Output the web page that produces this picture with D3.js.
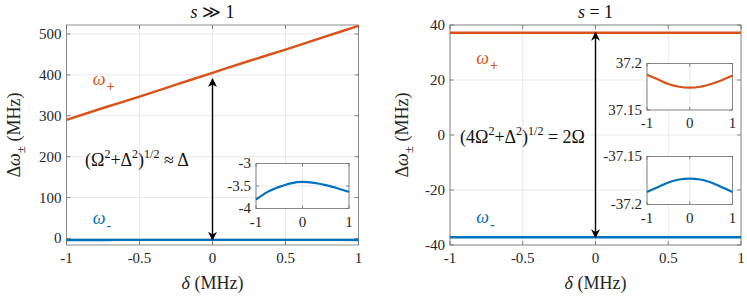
<!DOCTYPE html>
<meta charset="utf-8">
<script src="https://d3js.org/d3.v7.min.js"></script>
<style>
  body { margin: 0; background: #fff; }
</style>
<div id="my_dataviz"></div>
<script>
  // detuning samples (MHz)
  var delta = [-1, -0.75, -0.5, -0.25, 0, 0.25, 0.5, 0.75, 1];
  // s >> 1 branch values (MHz)
  var leftPlus = [290, 319, 347, 376, 405, 434, 462, 491, 520];
  var leftMinus = [-3.80, -3.63, -3.52, -3.44, -3.41, -3.43, -3.48, -3.55, -3.63];
  // s = 1 branch values (MHz)
  var rightPlus = [37.188, 37.183, 37.178, 37.175, 37.174, 37.175, 37.178, 37.182, 37.187];
  var rightMinus = [-37.187, -37.182, -37.177, -37.174, -37.173, -37.174, -37.177, -37.182, -37.187];

  var xTicks = [-1, -0.5, 0, 0.5, 1];
  var leftYTicks = [0, 100, 200, 300, 400, 500];
  var rightYTicks = [-40, -20, 0, 20, 40];
  var insetXTicks = [-1, 0, 1];

  var orange = "#D95319", blue = "#0072BD";

  var svg = d3.select("#my_dataviz").append("svg")
    .attr("width", 747).attr("height", 297);

  svg.append("defs").append("marker")
    .attr("id", "head")
    .attr("viewBox", "0 0 10 10")
    .attr("refX", 9).attr("refY", 5)
    .attr("markerWidth", 11).attr("markerHeight", 9)
    .attr("markerUnits", "userSpaceOnUse")
    .attr("orient", "auto-start-reverse")
    .append("path")
    .attr("d", "M0,0 L10,5 L0,10 L3,5 Z")
    .attr("fill", "#000");

  function pts(ys) {
    return delta.map(function (d, i) { return [d, ys[i]]; });
  }

  // draws a box with grid, inward ticks and tick labels
  function axesBox(g, x, y, xt, yt, fs, tickLen) {
    var x0 = x.range()[0], x1 = x.range()[1];
    var y0 = y.range()[0], y1 = y.range()[1];
    g.append("rect").attr("x", x0).attr("y", y1)
      .attr("width", x1 - x0).attr("height", y0 - y1).attr("fill", "#fff");
    g.selectAll(".gx").data(xt).enter().append("line")
      .attr("x1", x).attr("x2", x).attr("y1", y0).attr("y2", y1)
      .attr("stroke", "#e3e3e3").attr("stroke-width", 0.8);
    g.selectAll(".gy").data(yt).enter().append("line")
      .attr("y1", y).attr("y2", y).attr("x1", x0).attr("x2", x1)
      .attr("stroke", "#e3e3e3").attr("stroke-width", 0.8);
    xt.forEach(function (t) {
      [[y0, -tickLen], [y1, tickLen]].forEach(function (p) {
        g.append("line").attr("x1", x(t)).attr("x2", x(t))
          .attr("y1", p[0]).attr("y2", p[0] + p[1])
          .attr("stroke", "#555").attr("stroke-width", 0.7);
      });
    });
    yt.forEach(function (t) {
      [[x0, tickLen], [x1, -tickLen]].forEach(function (p) {
        g.append("line").attr("y1", y(t)).attr("y2", y(t))
          .attr("x1", p[0]).attr("x2", p[0] + p[1])
          .attr("stroke", "#555").attr("stroke-width", 0.7);
      });
    });
    g.append("rect").attr("x", x0).attr("y", y1)
      .attr("width", x1 - x0).attr("height", y0 - y1)
      .attr("fill", "none").attr("stroke", "#707070").attr("stroke-width", 0.8);
    g.selectAll(".tx").data(xt).enter().append("text")
      .attr("x", x).attr("y", y0 + fs + 3)
      .attr("text-anchor", "middle").attr("font-size", fs)
      .attr("fill", "#262626")
      .text(function (d) { return String(d); });
    g.selectAll(".ty").data(yt).enter().append("text")
      .attr("x", x0 - 5).attr("y", function (d) { return y(d) + fs * 0.33; })
      .attr("text-anchor", "end").attr("font-size", fs)
      .attr("fill", "#262626")
      .text(function (d) { return String(d); });
  }

  function curve(g, x, y, ys, color, w) {
    g.append("path").datum(pts(ys))
      .attr("fill", "none").attr("stroke", color).attr("stroke-width", w)
      .attr("d", d3.line().x(function (d) { return x(d[0]); })
        .y(function (d) { return y(d[1]); }).curve(d3.curveMonotoneX));
  }

  function omegaLabel(g, px, py, sign, color) {
    var t = g.append("text").attr("x", px).attr("y", py)
      .attr("font-size", 18).attr("fill", color);
    t.append("tspan").attr("font-style", "italic").text("ω");
    t.append("tspan").attr("dy", 6).attr("dx", 1).attr("font-size", 14)
      .attr("font-weight", "bold").text(sign);
  }

  function panel(opt) {
    var g = svg.append("g");
    var x = d3.scaleLinear().domain([-1, 1]).range(opt.xr);
    var y = d3.scaleLinear().domain(opt.yd).range([245, 25]);
    axesBox(g, x, y, xTicks, opt.yTicks, 15, 4);
    curve(g, x, y, opt.plus, orange, 2.4);
    curve(g, x, y, opt.minus, blue, 2.4);

    // title
    var t = g.append("text").attr("x", x(0)).attr("y", 18)
      .attr("text-anchor", "middle").attr("font-size", 18).attr("fill", "#111");
    t.append("tspan").attr("font-style", "italic").text("s");
    t.append("tspan").text(opt.title);

    // x label
    var xl = g.append("text").attr("x", x(0)).attr("y", 289)
      .attr("text-anchor", "middle").attr("font-size", 18).attr("fill", "#262626");
    xl.append("tspan").attr("font-style", "italic").text("δ");
    xl.append("tspan").text(" (MHz)");

    // y label
    var yl = g.append("text")
      .attr("transform", "translate(" + opt.ylx + ",135) rotate(-90)")
      .attr("text-anchor", "middle").attr("font-size", 18).attr("fill", "#262626");
    yl.append("tspan").text("Δ");
    yl.append("tspan").attr("font-style", "italic").text("ω");
    yl.append("tspan").attr("dy", 5).attr("font-size", 13).text("±");
    yl.append("tspan").attr("dy", -5).text(" (MHz)");

    // arrow between the branches
    g.append("line")
      .attr("x1", x(0)).attr("x2", x(0))
      .attr("y1", y(opt.arrow[0])).attr("y2", y(opt.arrow[1]))
      .attr("stroke", "#000").attr("stroke-width", 1.4)
      .attr("marker-start", "url(#head)").attr("marker-end", "url(#head)");

    // formula
    var f = g.append("text").attr("x", opt.fx).attr("y", opt.fy)
      .attr("font-size", 18).attr("fill", "#111");
    f.append("tspan").text(opt.f1);
    f.append("tspan").attr("dy", -8).attr("font-size", 12).text("2");
    f.append("tspan").attr("dy", 8).text("+Δ");
    f.append("tspan").attr("dy", -8).attr("font-size", 12).text("2");
    f.append("tspan").attr("dy", 8).text(")");
    f.append("tspan").attr("dy", -8).attr("font-size", 12).text("1/2");
    f.append("tspan").attr("dy", 8).text(opt.f2);

    omegaLabel(g, x(-0.82), opt.wpy, "+", orange);
    omegaLabel(g, x(-0.82), opt.wmy, "-", blue);
    return g;
  }

  function inset(g, xr, yr, yd, yt, ys, color) {
    var x = d3.scaleLinear().domain([-1, 1]).range(xr);
    var y = d3.scaleLinear().domain(yd).range(yr);
    axesBox(g, x, y, insetXTicks, yt, 15, 3);
    curve(g, x, y, ys, color, 2.2);
  }

  var gl = panel({
    xr: [66.5, 358.5], yd: [-16, 522], yTicks: leftYTicks,
    plus: leftPlus, minus: leftMinus, title: " ≫ 1", ylx: 20,
    arrow: [390, -3.4], fx: 85, fy: 166,
    f1: "(Ω", f2: " ≈ Δ", wpy: 85, wmy: 224
  });
  inset(gl, [256, 349], [208.5, 163.5], [-4, -3], [-4, -3.5, -3], leftMinus, blue);

  var gr = panel({
    xr: [450, 741], yd: [-40, 40], yTicks: rightYTicks,
    plus: rightPlus, minus: rightMinus, title: " = 1", ylx: 408,
    arrow: [37.2, -37.2], fx: 460, fy: 143,
    f1: "(4Ω", f2: " = 2Ω", wpy: 64, wmy: 223
  });
  inset(gr, [647, 732.5], [110, 63.5], [37.15, 37.2], [37.15, 37.2], rightPlus, orange);
  inset(gr, [647, 732.5], [204.5, 156.5], [-37.2, -37.15], [-37.2, -37.15], rightMinus, blue);

  // serif everywhere
  svg.selectAll("text").attr("font-family", "Liberation Serif");
</script>
